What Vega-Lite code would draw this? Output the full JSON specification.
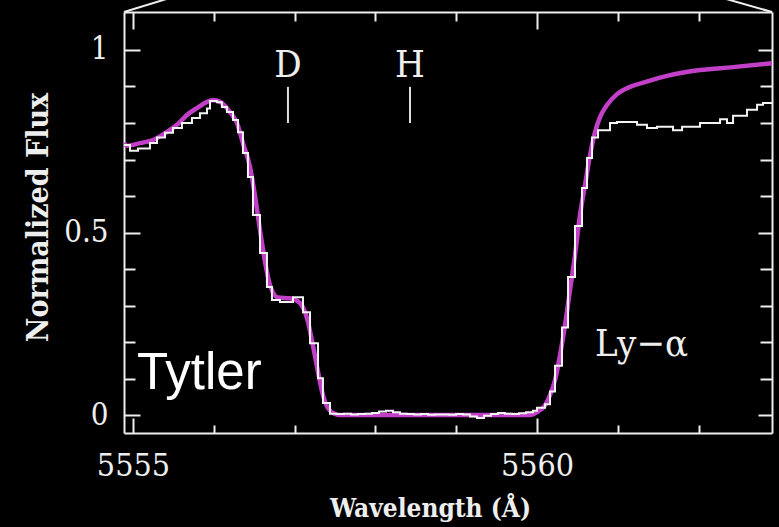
{
  "$schema": "https://vega.github.io/schema/vega-lite/v6.json",
  "width": 648,
  "height": 421,
  "autosize": "none",
  "padding": {"left": 124, "top": 12, "right": 7, "bottom": 94},
  "background": "#000000",
  "config": {
    "view": {"stroke": null},
    "axis": {
      "grid": false,
      "domainColor": "#eeeeee",
      "domainWidth": 2,
      "tickColor": "#eeeeee",
      "tickWidth": 2,
      "labelColor": "#eeeeee",
      "labelFont": "DejaVu Serif Condensed, DejaVu Serif",
      "titleColor": "#eeeeee",
      "titleFont": "DejaVu Serif Condensed, DejaVu Serif",
      "labelFlush": false,
      "labelOverlap": false
    }
  },
  "datasets": {
    "spectrum": [
      {"w": 5554.889, "f": 0.74},
      {"w": 5554.963, "f": 0.724},
      {"w": 5555.062, "f": 0.73},
      {"w": 5555.21, "f": 0.745},
      {"w": 5555.297, "f": 0.76},
      {"w": 5555.396, "f": 0.773},
      {"w": 5555.495, "f": 0.786},
      {"w": 5555.606, "f": 0.8},
      {"w": 5555.73, "f": 0.814},
      {"w": 5555.829, "f": 0.827},
      {"w": 5555.916, "f": 0.84},
      {"w": 5555.953, "f": 0.86},
      {"w": 5556.04, "f": 0.857},
      {"w": 5556.101, "f": 0.844},
      {"w": 5556.163, "f": 0.83},
      {"w": 5556.238, "f": 0.808},
      {"w": 5556.3, "f": 0.775},
      {"w": 5556.361, "f": 0.718},
      {"w": 5556.423, "f": 0.652},
      {"w": 5556.485, "f": 0.548},
      {"w": 5556.572, "f": 0.444},
      {"w": 5556.658, "f": 0.351},
      {"w": 5556.72, "f": 0.315},
      {"w": 5556.819, "f": 0.31},
      {"w": 5556.98, "f": 0.323},
      {"w": 5557.104, "f": 0.282},
      {"w": 5557.191, "f": 0.197},
      {"w": 5557.29, "f": 0.101},
      {"w": 5557.351, "f": 0.033},
      {"w": 5557.438, "f": 0.004},
      {"w": 5557.525, "f": 0.003},
      {"w": 5557.611, "f": 0.004},
      {"w": 5557.698, "f": 0.002},
      {"w": 5557.785, "f": 0.003},
      {"w": 5557.871, "f": 0.004},
      {"w": 5557.958, "f": 0.006},
      {"w": 5558.045, "f": 0.01},
      {"w": 5558.131, "f": 0.012},
      {"w": 5558.218, "f": 0.008},
      {"w": 5558.304, "f": 0.004},
      {"w": 5558.391, "f": 0.003},
      {"w": 5558.478, "f": 0.002},
      {"w": 5558.564, "f": 0.003},
      {"w": 5558.651, "f": 0.001},
      {"w": 5558.738, "f": 0.002},
      {"w": 5558.824, "f": 0.002},
      {"w": 5558.911, "f": 0.001},
      {"w": 5558.998, "f": 0.003},
      {"w": 5559.084, "f": 0.002},
      {"w": 5559.171, "f": -0.004},
      {"w": 5559.257, "f": -0.008},
      {"w": 5559.344, "f": -0.002},
      {"w": 5559.431, "f": 0.003},
      {"w": 5559.517, "f": 0.006},
      {"w": 5559.604, "f": 0.004},
      {"w": 5559.691, "f": 0.003},
      {"w": 5559.777, "f": 0.005},
      {"w": 5559.864, "f": 0.008},
      {"w": 5559.95, "f": 0.012},
      {"w": 5560.0, "f": 0.02},
      {"w": 5560.099, "f": 0.03},
      {"w": 5560.161, "f": 0.065},
      {"w": 5560.223, "f": 0.135},
      {"w": 5560.309, "f": 0.24},
      {"w": 5560.384, "f": 0.378},
      {"w": 5560.47, "f": 0.518},
      {"w": 5560.557, "f": 0.622},
      {"w": 5560.619, "f": 0.704},
      {"w": 5560.681, "f": 0.76},
      {"w": 5560.755, "f": 0.78},
      {"w": 5560.903, "f": 0.8},
      {"w": 5560.99, "f": 0.803},
      {"w": 5561.238, "f": 0.795},
      {"w": 5561.361, "f": 0.786},
      {"w": 5561.485, "f": 0.79},
      {"w": 5561.683, "f": 0.78},
      {"w": 5561.795, "f": 0.79},
      {"w": 5562.017, "f": 0.8},
      {"w": 5562.265, "f": 0.81},
      {"w": 5562.351, "f": 0.8},
      {"w": 5562.426, "f": 0.82},
      {"w": 5562.599, "f": 0.836},
      {"w": 5562.723, "f": 0.85},
      {"w": 5562.797, "f": 0.855},
      {"w": 5562.908, "f": 0.855}
    ],
    "model": [
      {"w": 5554.889, "f": 0.745},
      {"w": 5554.926, "f": 0.738},
      {"w": 5555.087, "f": 0.745},
      {"w": 5555.248, "f": 0.753},
      {"w": 5555.396, "f": 0.772},
      {"w": 5555.545, "f": 0.795},
      {"w": 5555.668, "f": 0.822},
      {"w": 5555.792, "f": 0.841},
      {"w": 5555.916, "f": 0.858},
      {"w": 5555.99, "f": 0.863},
      {"w": 5556.077, "f": 0.858},
      {"w": 5556.2, "f": 0.83},
      {"w": 5556.287, "f": 0.8},
      {"w": 5556.361, "f": 0.745},
      {"w": 5556.448, "f": 0.68},
      {"w": 5556.51, "f": 0.6},
      {"w": 5556.572, "f": 0.507},
      {"w": 5556.634, "f": 0.42},
      {"w": 5556.696, "f": 0.356},
      {"w": 5556.795, "f": 0.322},
      {"w": 5556.943, "f": 0.32},
      {"w": 5557.067, "f": 0.307},
      {"w": 5557.153, "f": 0.266},
      {"w": 5557.228, "f": 0.19},
      {"w": 5557.29, "f": 0.118},
      {"w": 5557.351, "f": 0.055},
      {"w": 5557.413, "f": 0.019},
      {"w": 5557.5, "f": 0.003},
      {"w": 5557.562, "f": 0.0},
      {"w": 5559.913, "f": 0.0},
      {"w": 5560.0, "f": 0.008},
      {"w": 5560.099, "f": 0.027},
      {"w": 5560.161, "f": 0.055},
      {"w": 5560.223, "f": 0.096},
      {"w": 5560.285, "f": 0.164},
      {"w": 5560.347, "f": 0.247},
      {"w": 5560.408, "f": 0.342},
      {"w": 5560.47, "f": 0.438},
      {"w": 5560.532, "f": 0.548},
      {"w": 5560.594, "f": 0.63},
      {"w": 5560.656, "f": 0.712},
      {"w": 5560.718, "f": 0.775},
      {"w": 5560.78, "f": 0.816},
      {"w": 5560.866, "f": 0.849},
      {"w": 5560.99, "f": 0.879},
      {"w": 5561.151, "f": 0.899},
      {"w": 5561.337, "f": 0.912},
      {"w": 5561.609, "f": 0.929},
      {"w": 5562.017, "f": 0.945},
      {"w": 5562.426, "f": 0.953},
      {"w": 5562.908, "f": 0.964}
    ],
    "markers": [
      {"label": "D", "w": 5556.918, "f": 0.8, "f2": 0.899, "ft": 0.956},
      {"label": "H", "w": 5558.428, "f": 0.8, "f2": 0.899, "ft": 0.956}
    ],
    "zoomlines": [
      {"w": 5554.889, "f": 1.104, "w2": 5555.613, "f2": 1.153},
      {"w": 5562.908, "f": 1.104, "w2": 5562.129, "f2": 1.153}
    ],
    "notes": [
      {"label": "Ly−α", "w": 5560.718, "f": 0.162}
    ],
    "author": [
      {"label": "Tytler", "w": 5555.05, "f": 0.071}
    ]
  },
  "layer": [
    {
      "data": {"name": "model"},
      "mark": {"type": "line", "color": "#c23fc8", "strokeWidth": 4.5, "interpolate": "monotone", "clip": true},
      "encoding": {
        "x": {
          "field": "w", "type": "quantitative",
          "scale": {"domain": [5554.889, 5562.908], "nice": false, "zero": false},
          "axis": {
            "orient": "bottom",
            "values": [5555, 5556, 5557, 5558, 5559, 5560, 5561, 5562],
            "format": "d",
            "labelExpr": "datum.value == 5555 || datum.value == 5560 ? datum.label : ''",
            "tickSize": {"condition": {"test": "datum.value == 5555 || datum.value == 5560", "value": -15}, "value": -8},
            "labelFontSize": 32,
            "labelPadding": 32,
            "title": "Wavelength (Å)",
            "titleFontSize": 26,
            "titleFontWeight": "bold",
            "titleX": 306,
            "titleY": 83,
            "titleBaseline": "alphabetic"
          }
        },
        "y": {
          "field": "f", "type": "quantitative",
          "scale": {"domain": [-0.049, 1.104], "nice": false, "zero": false},
          "axis": {
            "orient": "left",
            "values": [0, 0.1, 0.2, 0.3, 0.4, 0.5, 0.6, 0.7, 0.8, 0.9, 1],
            "labelExpr": "datum.value == 0 ? '0' : datum.value == 0.5 ? '0.5' : datum.value == 1 ? '1' : ''",
            "tickSize": {"condition": {"test": "datum.value == 0 || datum.value == 0.5 || datum.value == 1", "value": -16}, "value": -11},
            "labelFontSize": 31,
            "labelPadding": 32,
            "title": "Normalized Flux",
            "titleFontSize": 30,
            "titleFontWeight": "bold",
            "titleX": -86,
            "titleY": 205,
            "titleAlign": "center",
            "titleBaseline": "middle"
          }
        }
      }
    },
    {
      "data": {"name": "spectrum"},
      "mark": {"type": "line", "color": "#f4f4f4", "strokeWidth": 2, "interpolate": "step-after", "clip": true},
      "encoding": {
        "x": {
          "field": "w", "type": "quantitative",
          "scale": {"domain": [5554.889, 5562.908], "nice": false, "zero": false},
          "axis": {
            "orient": "top",
            "values": [5555, 5556, 5557, 5558, 5559, 5560, 5561, 5562],
            "labels": false,
            "title": null,
            "tickSize": {"condition": {"test": "datum.value == 5555 || datum.value == 5560", "value": -17}, "value": -9}
          }
        },
        "y": {
          "field": "f", "type": "quantitative",
          "scale": {"domain": [-0.049, 1.104], "nice": false, "zero": false},
          "axis": {
            "orient": "right",
            "values": [0, 0.1, 0.2, 0.3, 0.4, 0.5, 0.6, 0.7, 0.8, 0.9, 1],
            "labels": false,
            "title": null,
            "tickSize": {"condition": {"test": "datum.value == 0 || datum.value == 0.5 || datum.value == 1", "value": -14}, "value": -12}
          }
        }
      }
    },
    {
      "data": {"name": "markers"},
      "mark": {"type": "rule", "color": "#dddddd", "strokeWidth": 2},
      "encoding": {
        "x": {"field": "w", "type": "quantitative", "axis": null},
        "y": {"field": "f", "type": "quantitative", "axis": null},
        "y2": {"field": "f2"}
      }
    },
    {
      "data": {"name": "markers"},
      "mark": {"type": "text", "color": "#eeeeee", "font": "DejaVu Serif Condensed, DejaVu Serif", "fontSize": 38, "align": "center", "baseline": "middle"},
      "encoding": {
        "x": {"field": "w", "type": "quantitative", "axis": null},
        "y": {"field": "ft", "type": "quantitative", "axis": null},
        "text": {"field": "label"}
      }
    },
    {
      "data": {"name": "notes"},
      "mark": {"type": "text", "color": "#eeeeee", "font": "DejaVu Serif Condensed, DejaVu Serif", "fontSize": 38, "align": "left", "baseline": "alphabetic"},
      "encoding": {
        "x": {"field": "w", "type": "quantitative", "axis": null},
        "y": {"field": "f", "type": "quantitative", "axis": null},
        "text": {"field": "label"}
      }
    },
    {
      "data": {"name": "author"},
      "mark": {"type": "text", "color": "#ffffff", "font": "Liberation Sans", "fontSize": 51, "align": "left", "baseline": "alphabetic"},
      "encoding": {
        "x": {"field": "w", "type": "quantitative", "axis": null},
        "y": {"field": "f", "type": "quantitative", "axis": null},
        "text": {"field": "label"}
      }
    },
    {
      "data": {"name": "zoomlines"},
      "mark": {"type": "rule", "color": "#eeeeee", "strokeWidth": 2},
      "encoding": {
        "x": {"field": "w", "type": "quantitative", "axis": null},
        "y": {"field": "f", "type": "quantitative", "axis": null},
        "x2": {"field": "w2"},
        "y2": {"field": "f2"}
      }
    }
  ],
  "resolve": {"axis": {"x": "independent", "y": "independent"}}
}
